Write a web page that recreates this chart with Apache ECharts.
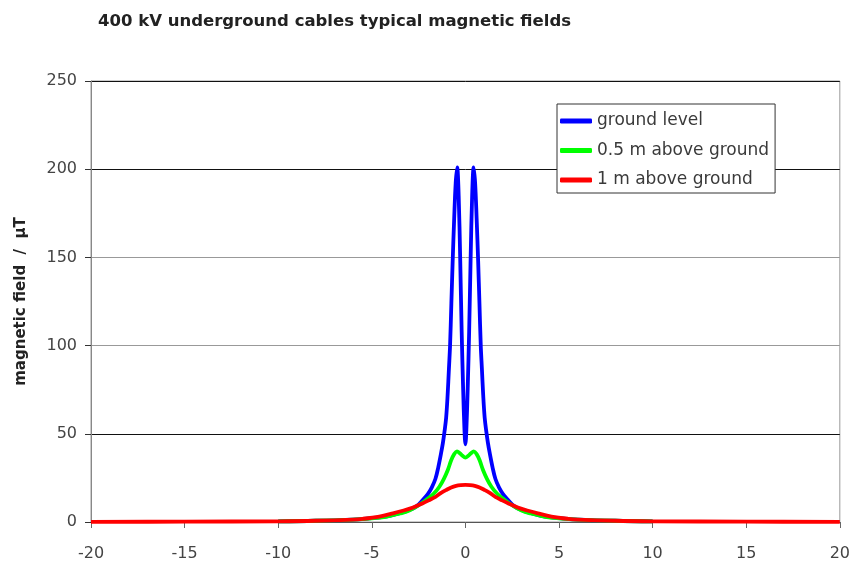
<!DOCTYPE html>
<html>
<head>
<meta charset="utf-8">
<script src="https://cdn.jsdelivr.net/npm/echarts@6/dist/echarts.min.js"></script>
<style>html,body{margin:0;padding:0;background:#fff;}#c{width:853px;height:566px;}</style>
</head>
<body>
<div id="c"></div>
<script>
const titleText = '400 kV underground cables typical magnetic fields';
const yAxisTitle = 'magnetic field  /  µT';
const seriesNames = ['ground level', '0.5 m above ground', '1 m above ground'];

// distance from cable axis (m)
const xGround = [-10, -8, -6, -5, -4.2, -3.5, -3, -2.6, -2.28, -2, -1.8, -1.6, -1.45, -1.3, -1.2, -1.12, -1.03, -0.95, -0.88, -0.82, -0.75, -0.68, -0.6, -0.52, -0.44, -0.36, -0.28, -0.2, -0.12, -0.05, 0,
                 0.05, 0.12, 0.2, 0.28, 0.36, 0.44, 0.52, 0.6, 0.68, 0.75, 0.82, 0.88, 0.95, 1.03, 1.12, 1.2, 1.3, 1.45, 1.6, 1.8, 2, 2.28, 2.6, 3, 3.5, 4.2, 5, 6, 8, 10];
const yGround = [0.4, 0.7, 1.4, 2.2, 3.2, 5, 6.8, 9, 12.5, 16, 19.5, 24.5, 31, 39, 45, 51, 59, 72, 87, 100, 124, 148, 172, 192, 201, 185, 150, 108, 75, 52, 44,
                 52, 75, 108, 150, 185, 201, 192, 172, 148, 124, 100, 87, 72, 59, 51, 45, 39, 31, 24.5, 19.5, 16, 12.5, 9, 6.8, 5, 3.2, 2.2, 1.4, 0.7, 0.4];

const xHalf = [-10, -8, -6, -5, -4.2, -3.5, -3, -2.5, -2.1, -1.7, -1.39, -1.15, -0.94, -0.76, -0.6, -0.45, -0.3, -0.15, 0,
               0.15, 0.3, 0.45, 0.6, 0.76, 0.94, 1.15, 1.39, 1.7, 2.1, 2.5, 3, 3.5, 4.2, 5, 6, 8, 10];
const yHalf = [0.4, 0.7, 1.4, 2.1, 3.1, 4.8, 6.5, 9.5, 12.5, 16, 20, 24.5, 29.5, 35, 38.5, 40, 39, 37.5, 36.5,
               37.5, 39, 40, 38.5, 35, 29.5, 24.5, 20, 16, 12.5, 9.5, 6.5, 4.8, 3.1, 2.1, 1.4, 0.7, 0.4];

const xOne = [-20, -15, -10, -8, -6, -5.5, -4.6, -3.87, -3.3, -2.8, -2.3, -1.92, -1.6, -1.3, -1.0, -0.76, -0.5, -0.25, 0,
              0.25, 0.5, 0.76, 1.0, 1.3, 1.6, 1.92, 2.3, 2.8, 3.3, 3.87, 4.6, 5.5, 6, 8, 10, 15, 20];
const yOne = [0.1, 0.2, 0.4, 0.7, 1.4, 1.8, 3.1, 4.9, 6.5, 8.2, 10.5, 12.5, 14.3, 16.5, 18.3, 19.6, 20.5, 20.9, 21,
              20.9, 20.5, 19.6, 18.3, 16.5, 14.3, 12.5, 10.5, 8.2, 6.5, 4.9, 3.1, 1.8, 1.4, 0.7, 0.4, 0.2, 0.1];

const xTicks = { min: -20, max: 20, interval: 5 };
const yTicks = { min: 0, max: 250, interval: 50 };

function pairs(xs, ys) { return xs.map((x, i) => [x, ys[i]]); }

const FONT = 'DejaVu Sans, Liberation Sans, Arial, sans-serif';
const chart = echarts.init(document.getElementById('c'));
chart.setOption({
  animation: false,
  backgroundColor: '#fff',
  title: {
    text: titleText, left: 93, top: 8,
    textStyle: { fontFamily: FONT, fontSize: 16.5, fontWeight: 'bold', color: '#222' }
  },
  grid: { left: 91, right: 13, top: 81, bottom: 44, show: true, borderColor: '#999', borderWidth: 1, backgroundColor: 'transparent' },
  legend: {
    orient: 'vertical', left: 557, top: 104,
    padding: [7, 6, 3, 3],
    backgroundColor: '#fff', borderColor: '#333', borderWidth: 1,
    itemWidth: 32, itemHeight: 5, itemGap: 9.5, icon: 'roundRect',
    textStyle: { fontFamily: FONT, fontSize: 17, lineHeight: 20, color: '#3a3a3a' },
    data: seriesNames
  },
  xAxis: {
    type: 'value', min: xTicks.min, max: xTicks.max, interval: xTicks.interval,
    axisLine: { onZero: false, lineStyle: { color: '#555', width: 1 } },
    axisTick: { show: true, length: 6, lineStyle: { color: '#666' } },
    axisLabel: { fontFamily: FONT, fontSize: 16, color: '#444', margin: 24 },
    splitLine: { show: false }
  },
  yAxis: {
    type: 'value', min: yTicks.min, max: yTicks.max, interval: yTicks.interval,
    name: yAxisTitle, nameLocation: 'middle', nameRotate: 90, nameGap: 62,
    nameTextStyle: { fontFamily: FONT, fontSize: 15, fontWeight: 'bold', color: '#222' },
    axisLine: { show: true, onZero: false, lineStyle: { color: '#888', width: 1 } },
    axisTick: { show: true, length: 6, lineStyle: { color: '#333' } },
    axisLabel: { fontFamily: FONT, fontSize: 16, color: '#444', margin: 14 },
    splitLine: { show: true, lineStyle: { color: ['#000', '#111', '#999', '#999', '#111', '#111'], width: 1 } }
  },
  series: [
    { name: seriesNames[0], type: 'line', data: pairs(xGround, yGround), showSymbol: false, smooth: 0.35,
      lineStyle: { color: '#0000ff', width: 3.8 }, itemStyle: { color: '#0000ff' } },
    { name: seriesNames[1], type: 'line', data: pairs(xHalf, yHalf), showSymbol: false, smooth: 0.35,
      lineStyle: { color: '#00ff00', width: 3.8 }, itemStyle: { color: '#00ff00' } },
    { name: seriesNames[2], type: 'line', data: pairs(xOne, yOne), showSymbol: false, smooth: 0.35,
      lineStyle: { color: '#ff0000', width: 3.8 }, itemStyle: { color: '#ff0000' } }
  ]
});
</script>
</body>
</html>
